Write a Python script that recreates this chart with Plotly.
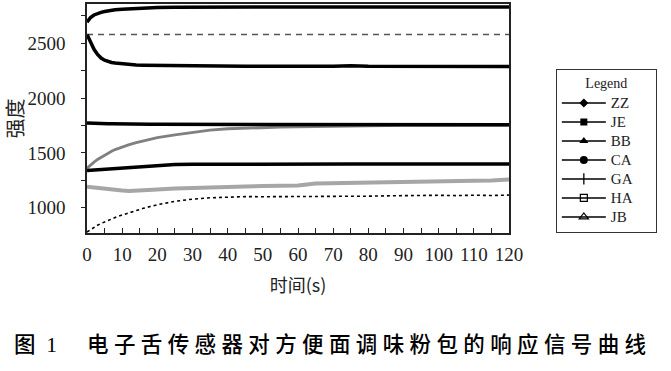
import plotly.graph_objects as go

# ---------------- data ----------------
TIME = [0, 1, 2, 3, 4, 5, 6, 7, 8, 10, 12, 14, 16, 18, 20,
        25, 30, 35, 40, 45, 50, 55, 60, 65, 70, 75, 80, 85, 90, 95, 100, 105, 110, 115, 120]

ZZ = [2692, 2735, 2758, 2772, 2782, 2790, 2796, 2801, 2805,
      2811, 2815, 2818, 2821, 2823, 2825,
      2828, 2830, 2830, 2831, 2831, 2831, 2830, 2831, 2830, 2831, 2830, 2830, 2831, 2830, 2830, 2830, 2831, 2830, 2830, 2830]
JE = [2580, 2505, 2445, 2398, 2365, 2345, 2333, 2325, 2319,
      2311, 2306, 2302, 2300, 2299, 2298,
      2298, 2297, 2296, 2293, 2290, 2291, 2293, 2292, 2291, 2290, 2294, 2290, 2290, 2289, 2290, 2289, 2290, 2292, 2289, 2288]
BB = [1773, 1773, 1772, 1772, 1771, 1768, 1766, 1765, 1764,
      1763, 1762, 1762, 1761, 1761, 1760,
      1760, 1760, 1759, 1759, 1759, 1760, 1759, 1758, 1758, 1758, 1758, 1758, 1757, 1757, 1757, 1757, 1756, 1757, 1756, 1757]
CA = [1340, 1342, 1344, 1347, 1349, 1351, 1354, 1356, 1358,
      1362, 1367, 1372, 1377, 1382, 1387,
      1393, 1396, 1397, 1398, 1398, 1398, 1398, 1399, 1398, 1398, 1398, 1398, 1398, 1398, 1398, 1398, 1398, 1398, 1398, 1398]
GA = [778, 800, 822, 840, 856, 871, 885, 898, 910,
      933, 955, 975, 994, 1011, 1027,
      1058, 1078, 1090, 1097, 1101, 1100, 1100, 1102, 1103, 1104, 1104, 1105, 1108, 1111, 1109, 1113, 1110, 1114, 1111, 1115]
HA = [1360, 1390, 1415, 1440, 1460, 1480, 1500, 1515, 1530,
      1555, 1575, 1593, 1610, 1625, 1640,
      1665, 1688, 1708, 1720, 1726, 1730, 1734, 1737, 1740, 1742, 1744, 1746, 1748, 1750, 1751, 1752, 1752, 1753, 1753, 1754]
JB = [1190, 1186, 1182, 1178, 1175, 1171, 1167, 1163, 1160,
      1156, 1153, 1154, 1158, 1162, 1166,
      1174, 1181, 1186, 1190, 1193, 1198, 1201, 1203, 1220, 1223, 1230, 1236, 1237, 1238, 1239, 1245, 1246, 1246, 1247, 1256]

REF_TIME = [0, 120]
REF = [2580, 2580]

SERIES_NAMES = ["ZZ", "JE", "BB", "CA", "GA", "HA", "JB"]
SERIES_VALUES = [ZZ, JE, BB, CA, GA, HA, JB]

X_TITLE = "时间(s)"
Y_TITLE = "强度"
CAPTION_FIG = "图"
CAPTION_NUM = "1"
CAPTION = "电子舌传感器对方便面调味粉包的响应信号曲线"
LEGEND_TITLE = "Legend"

# ---------------- styles ----------------
line_styles = {
    "ZZ": dict(color="black", width=3.5),
    "JE": dict(color="black", width=3.5),
    "BB": dict(color="black", width=3.5),
    "CA": dict(color="black", width=3.5),
    "GA": dict(color="black", width=1.6, dash="dot"),
    "HA": dict(color="#808080", width=2.8),
    "JB": dict(color="#a6a6a6", width=4),
}
legend_markers = {
    "ZZ": dict(symbol="diamond", size=7, color="black"),
    "JE": dict(symbol="square", size=7, color="black"),
    "BB": dict(symbol="triangle-up", size=8, color="black"),
    "CA": dict(symbol="circle", size=8, color="black"),
    "GA": dict(symbol="line-ns", size=8, color="black", line=dict(width=1.3, color="black")),
    "HA": dict(symbol="square-open", size=7, color="black", line=dict(width=1.2, color="black")),
    "JB": dict(symbol="triangle-up-open", size=8, color="black", line=dict(width=1.2, color="black")),
}

CJK = "Noto Sans CJK SC"
SERIF = "Liberation Serif"

fig = go.Figure()

# dashed reference line
fig.add_trace(go.Scatter(x=REF_TIME, y=REF, mode="lines", showlegend=False,
                         line=dict(color="#555555", width=1.6, dash="6px,5px"), hoverinfo="skip"))

draw_order = ["JB", "HA", "GA", "CA", "BB", "JE", "ZZ"]
for name in draw_order:
    vals = SERIES_VALUES[SERIES_NAMES.index(name)]
    fig.add_trace(go.Scatter(x=TIME, y=vals, mode="lines", name=name, showlegend=False,
                             line=line_styles[name]))

# legend entries
for name in SERIES_NAMES:
    fig.add_trace(go.Scatter(x=[None], y=[None], mode="lines+markers",
                             name="<span style='font-size:15px'>" + name + "</span>\u2800\u2800",
                             line=dict(color="black", width=1.5),
                             marker=legend_markers[name]))

fig.update_xaxes(range=[0, 120], dtick=10, tick0=0, showgrid=False, zeroline=False, automargin=False,
                 showline=True, linecolor="#222", linewidth=1.5, mirror=True,
                 ticks="inside", ticklen=5, tickwidth=1.2, tickcolor="#222",
                 minor=dict(dtick=5, ticks="inside", ticklen=5, tickwidth=1.2, tickcolor="#222"),
                 tickfont=dict(family=SERIF, size=19, color="#222"), ticklabelstandoff=3,
                 title=dict(text=X_TITLE, font=dict(family=CJK, size=18, color="#222"), standoff=16))
fig.update_yaxes(range=[769, 2858], dtick=500, tick0=0, showgrid=False, zeroline=False, automargin=False,
                 showline=True, linecolor="#222", linewidth=1.5, mirror=True,
                 ticks="outside", ticklen=4, tickwidth=1.2, tickcolor="#222",
                 minor=dict(dtick=250, ticks="outside", ticklen=4, tickwidth=1.2, tickcolor="#222"),
                 tickfont=dict(family=SERIF, size=19, color="#222"), ticklabelstandoff=12,
                 title=dict(text=Y_TITLE, font=dict(family=CJK, size=20, color="#222"), standoff=6))

fig.add_annotation(xref="paper", yref="paper", x=-0.178, y=-0.48, xanchor="left", yanchor="middle",
                   showarrow=False,
                   text=CAPTION_FIG + "\u2002<span style='font-family:Liberation Serif'>" + CAPTION_NUM + "</span>",
                   font=dict(family=CJK, size=21.5, color="black", weight=500))
fig.add_annotation(xref="paper", yref="paper", x=-0.005, y=-0.48, xanchor="left", yanchor="middle",
                   showarrow=False, text="\u2005".join(CAPTION),
                   font=dict(family=CJK, size=21.5, color="black", weight=500))

fig.update_layout(
    width=671, height=371,
    margin=dict(l=87, r=162, t=4, b=138, autoexpand=False),
    paper_bgcolor="white", plot_bgcolor="white",
    showlegend=True,
    legend=dict(x=1.111, xanchor="left", y=0.715, yanchor="top",
                bgcolor="white", bordercolor="#333", borderwidth=1,
                font=dict(family=SERIF, size=12, color="#222"),
                title=dict(text=LEGEND_TITLE, side="top center", font=dict(family=SERIF, size=14, color="#222")),
                itemwidth=44, tracegroupgap=0),
)

fig.write_html("out.html", post_script="document.body.style.margin='0px';",
               config={"displayModeBar": False})
